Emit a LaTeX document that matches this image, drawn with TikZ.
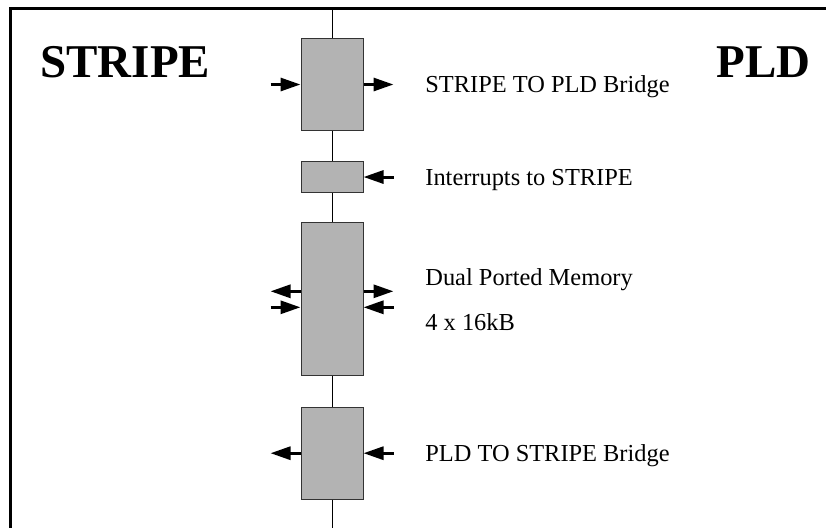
\documentclass[tikz,border=0pt]{standalone}
\usepackage{fontspec}
\setmainfont{Liberation Serif}
\usepackage{tikz}
\usetikzlibrary{arrows.meta,positioning,calc}
\definecolor{bgray}{HTML}{B3B3B3}
\definecolor{bedge}{HTML}{333333}

\begin{document}
\begin{tikzpicture}[
    x=0.5pt,y=-0.5pt,
    blk/.style={draw=bedge,fill=bgray,line width=0.5pt,
                minimum width=31pt,inner sep=0pt},
    arr/.style={-{Triangle[length=10pt,width=6.5pt]},line width=1.5pt,black},
    lbl/.style={font=\fontsize{12.2}{14}\selectfont,anchor=base west,inner sep=0pt},
    ttl/.style={font=\fontsize{23.5}{27}\selectfont\bfseries,anchor=base west,inner sep=0pt}
  ]
    \useasboundingbox (0,0) rectangle (826,527);

    % Frame
    \draw[line width=1.5pt] (10.5,530) |- (830,8.5);

    \node[ttl] (stripe) at (40,77) {STRIPE};
    \node[ttl] (pld)    at (716,77) {PLD};

    \node[blk,minimum height=46pt]   (br1) at (332,84.5)  {};
    \node[blk,minimum height=15.5pt] (irq) at (332,177)   {};
    \node[blk,minimum height=76.5pt] (mem) at (332,299.3) {};
    \node[blk,minimum height=46pt]   (br2) at (332,453.2) {};

    \coordinate (top) at (332,8.5);
    \coordinate (bot) at (332,530);
    \draw[line width=0.5pt] (top) -- (br1) -- (irq) -- (mem) -- (br2) -- (bot);

    % Arrows
    \draw[arr] ([xshift=-15pt]br1.west) -- (br1.west);
    \draw[arr] (br1.east) -- ([xshift=15pt]br1.east);
    \draw[arr] ([xshift=15pt]irq.east) -- (irq.east);
    \draw[arr] ([yshift=4pt]mem.west) -- ([xshift=-15pt,yshift=4pt]mem.west);
    \draw[arr] ([xshift=-15pt,yshift=-4pt]mem.west) -- ([yshift=-4pt]mem.west);
    \draw[arr] ([yshift=4pt]mem.east) -- ([xshift=15pt,yshift=4pt]mem.east);
    \draw[arr] ([xshift=15pt,yshift=-4pt]mem.east) -- ([yshift=-4pt]mem.east);
    \draw[arr] (br2.west) -- ([xshift=-15pt]br2.west);
    \draw[arr] ([xshift=15pt]br2.east) -- (br2.east);

    % Labels
    \node[lbl] (l1) at (425,92)  {STRIPE TO PLD Bridge};
    \node[lbl] (l2) at (425,185) {Interrupts to STRIPE};
    \node[lbl] (l3) at (425,285) {Dual Ported Memory};
    \node[lbl] (l4) at (425,330) {4 x 16kB};
    \node[lbl] (l5) at (425,461) {PLD TO STRIPE Bridge};

  \end{tikzpicture}
\end{document}
